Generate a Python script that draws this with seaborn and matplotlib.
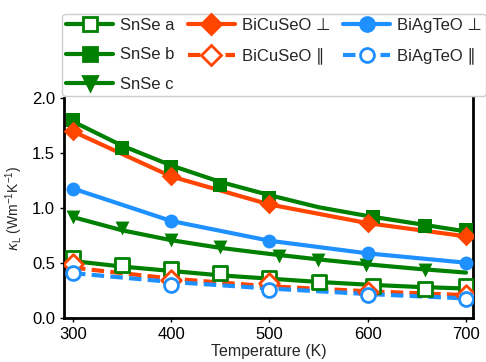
import matplotlib
matplotlib.use("Agg")
import matplotlib.pyplot as plt
from matplotlib.lines import Line2D
import numpy as np
import pandas as pd
import seaborn as sns

# --- data ---
# SnSe: measured points + smooth guide lines
snse_a_T = [300, 350, 400, 450, 500, 550, 605, 658, 700]
snse_a = [0.545, 0.485, 0.445, 0.41, 0.37, 0.333, 0.29, 0.265, 0.29]
snse_b_T = [300, 350, 400, 450, 500, 605, 658, 700]
snse_b = [1.80, 1.55, 1.375, 1.21, 1.09, 0.92, 0.835, 0.80]
snse_c_T = [300, 350, 400, 450, 510, 549, 598, 658]
snse_c = [0.925, 0.818, 0.71, 0.645, 0.565, 0.53, 0.485, 0.44]

line_T = [300, 350, 400, 450, 500, 550, 600, 650, 700]
snse_a_line = [0.52, 0.47, 0.43, 0.39, 0.36, 0.33, 0.305, 0.285, 0.27]
snse_b_line = [1.79, 1.57, 1.39, 1.24, 1.12, 1.01, 0.93, 0.86, 0.79]
snse_c_line = [0.92, 0.80, 0.71, 0.64, 0.585, 0.535, 0.49, 0.45, 0.415]

# BiCuSeO / BiAgTeO
bi_T = [300, 400, 500, 600, 700]
bicuseo_perp = [1.70, 1.29, 1.035, 0.865, 0.745]
bicuseo_par = [0.49, 0.345, 0.32, 0.24, 0.21]
bicuseo_par_line = [0.46, 0.36, 0.29, 0.245, 0.21]
biagteo_perp = [1.18, 0.885, 0.705, 0.59, 0.505]
biagteo_par = [0.41, 0.30, 0.255, 0.21, 0.175]
biagteo_par_line = [0.41, 0.33, 0.27, 0.22, 0.18]

GREEN = "#008000"
ORANGE = "#FF4500"
BLUE = "#1E90FF"

sns.set_style("ticks")
plt.rcParams["font.family"] = ["Liberation Sans", "DejaVu Sans"]
plt.rcParams["mathtext.fontset"] = "custom"
plt.rcParams["mathtext.rm"] = "Liberation Sans"
plt.rcParams["mathtext.it"] = "DejaVu Sans:italic"

LW = 3
MS = 10

fig = plt.figure(figsize=(4.86, 3.62), dpi=100)
ax = fig.add_axes([0.132, 0.121, 0.841, 0.607])

# smooth SnSe guide lines
for vals in (snse_a_line, snse_b_line, snse_c_line):
    sns.lineplot(x=line_T, y=vals, color=GREEN, lw=LW, ax=ax)
# Bi compounds lines
sns.lineplot(x=bi_T, y=bicuseo_perp, color=ORANGE, lw=LW, ax=ax)
sns.lineplot(x=bi_T, y=biagteo_perp, color=BLUE, lw=LW, ax=ax)
sns.lineplot(x=bi_T, y=bicuseo_par_line, color=ORANGE, lw=LW, ax=ax, linestyle=(0, (3, 1.5)))
sns.lineplot(x=bi_T, y=biagteo_par_line, color=BLUE, lw=LW, ax=ax, linestyle=(0, (3, 1.5)))

# markers
mk = dict(s=MS ** 2, ax=ax, zorder=3, legend=False)
sns.scatterplot(x=snse_b_T, y=snse_b, marker="s", color=GREEN, edgecolor=GREEN, linewidth=0, **mk)
sns.scatterplot(x=snse_c_T, y=snse_c, marker="v", color=GREEN, edgecolor=GREEN, linewidth=0, **mk)
sns.scatterplot(x=snse_a_T, y=snse_a, marker="s", color="white", edgecolor=GREEN, linewidth=2, **mk)
sns.scatterplot(x=bi_T, y=bicuseo_perp, marker="D", color=ORANGE, edgecolor=ORANGE, linewidth=0, **mk)
sns.scatterplot(x=bi_T, y=biagteo_perp, marker="o", color=BLUE, edgecolor=BLUE, linewidth=0, **mk)
sns.scatterplot(x=bi_T, y=bicuseo_par, marker="D", color="white", edgecolor=ORANGE, linewidth=2, **mk)
sns.scatterplot(x=bi_T, y=biagteo_par, marker="o", color="white", edgecolor=BLUE, linewidth=2, **mk)

ax.set_xlim(291, 707)
ax.set_ylim(0, 2.0)
ax.set_xticks([300, 400, 500, 600, 700])
ax.set_yticks([0.0, 0.5, 1.0, 1.5, 2.0])
ax.set_yticklabels(["0.0", "0.5", "1.0", "1.5", "2.0"])
ax.tick_params(direction="out", length=3, width=1, labelsize=12, colors="black")
ax.set_xlabel("Temperature (K)", fontsize=11.5, labelpad=1)
ax.set_ylabel(r"$\kappa_\mathrm{L}$ (Wm$^{-1}$K$^{-1}$)", fontsize=10, labelpad=5)
for side in ("left", "bottom", "right"):
    ax.spines[side].set_linewidth(2)
    ax.spines[side].set_color("black")
ax.spines["top"].set_visible(False)

def handle(color, marker, face, ls="-"):
    return Line2D([], [], color=color, lw=LW, ls=ls, marker=marker, markersize=MS,
                  markerfacecolor=face, markeredgecolor=color, markeredgewidth=2)

handles = [
    handle(GREEN, "s", "white"),
    handle(GREEN, "s", GREEN),
    handle(GREEN, "v", GREEN),
    handle(ORANGE, "D", ORANGE),
    handle(ORANGE, "D", "white", (0, (3, 1.5))),
    handle(BLUE, "o", BLUE),
    handle(BLUE, "o", "white", (0, (3, 1.5))),
]
labels = ["SnSe a", "SnSe b", "SnSe c", "BiCuSeO \u22a5", "BiCuSeO \u2225",
          "BiAgTeO \u22a5", "BiAgTeO \u2225"]
leg = fig.legend(handles, labels, loc="upper left", bbox_to_anchor=(0.128, 0.961),
                 ncol=3, fontsize=12, frameon=True, fancybox=True,
                 framealpha=1, edgecolor="#cccccc", handlelength=2.8, borderaxespad=0,
                 handletextpad=0.42, labelspacing=0.85, borderpad=0.25, columnspacing=0.8)

fig.savefig("out.png", dpi=100)
